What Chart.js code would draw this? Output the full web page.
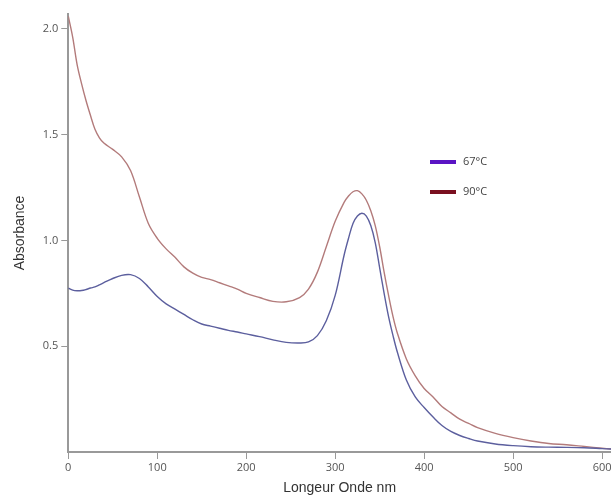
<!DOCTYPE html>
<html>
<head>
<meta charset="utf-8">
<script src="https://cdn.jsdelivr.net/npm/chart.js@4"></script>
<style>
  html, body { margin: 0; padding: 0; background: #fff; }
  #wrap { width: 611px; height: 498px; position: relative; }
</style>
</head>
<body>
<div id="wrap"><canvas id="chart"></canvas></div>
<script>
const wavelengths = [0, 5, 10, 15, 20, 25, 30, 35, 40, 50, 60, 70, 80, 90, 100, 110, 120, 130, 140, 150,
  160, 170, 180, 190, 200, 215, 230, 245, 260, 270, 280, 290, 300, 310, 315, 320, 325, 330, 335, 340,
  345, 350, 355, 360, 365, 370, 380, 390, 400, 410, 420, 430, 440, 450, 460, 480, 500, 520, 540, 560,
  580, 600, 610];

const abs67 = [0.775, 0.765, 0.762, 0.763, 0.768, 0.775, 0.78, 0.79, 0.80, 0.82, 0.835, 0.838, 0.82, 0.78, 0.735, 0.70, 0.675, 0.65, 0.625, 0.605,
  0.595, 0.585, 0.575, 0.567, 0.558, 0.545, 0.53, 0.518, 0.515, 0.52, 0.55, 0.62, 0.74, 0.93, 1.01, 1.08, 1.115, 1.128, 1.115, 1.07,
  0.99, 0.87, 0.75, 0.64, 0.55, 0.47, 0.34, 0.26, 0.21, 0.165, 0.125, 0.097, 0.078, 0.064, 0.052, 0.038, 0.03, 0.025, 0.023, 0.022,
  0.02, 0.016, 0.014];

const abs90 = [2.06, 1.96, 1.83, 1.74, 1.66, 1.59, 1.525, 1.485, 1.46, 1.43, 1.395, 1.33, 1.205, 1.08, 1.01, 0.96, 0.92, 0.875, 0.845, 0.825,
  0.815, 0.80, 0.785, 0.77, 0.75, 0.73, 0.712, 0.71, 0.73, 0.77, 0.85, 0.97, 1.09, 1.18, 1.21, 1.23, 1.235, 1.22, 1.19, 1.14,
  1.07, 0.97, 0.85, 0.74, 0.64, 0.56, 0.44, 0.36, 0.30, 0.26, 0.215, 0.185, 0.155, 0.135, 0.115, 0.088, 0.068, 0.052, 0.04, 0.034,
  0.026, 0.018, 0.014];

const seriesLabels = ['67°C', '90°C'];
const lineColors = ['#5c5f9e', '#b37b7b'];
const swatchColors = ['#5a14c4', '#7a0f20'];
const xTicks = [0, 100, 200, 300, 400, 500, 600];
const yTicks = [0.5, 1.0, 1.5, 2.0];

function toPoints(values) {
    return wavelengths.map((w, i) => ({ x: w, y: values[i] }));
}

// legend drawn inside the plot, to the right of the peak
const floatingLegend = {
    id: 'floatingLegend',
    afterDraw(chart) {
        const ctx = chart.ctx;
        ctx.save();
        ctx.font = '11px "Open Sans", sans-serif';
        ctx.textBaseline = 'middle';
        seriesLabels.forEach((label, i) => {
            const y = 162 + i * 30;
            ctx.fillStyle = swatchColors[i];
            ctx.fillRect(430, y - 2, 26, 4);
            ctx.fillStyle = '#444';
            ctx.fillText(label, 463, y);
        });
        ctx.restore();
    }
};

function makeDataset(i, values) {
    return {
        label: seriesLabels[i],
        data: toPoints(values),
        borderColor: lineColors[i],
        borderWidth: 1.4,
        pointRadius: 0,
        tension: 0.35,
        fill: false
    };
}

new Chart(document.getElementById('chart').getContext('2d'), {
    type: 'line',
    data: {
        datasets: [makeDataset(0, abs67), makeDataset(1, abs90)]
    },
    options: {
        responsive: true,
        maintainAspectRatio: false,
        animation: false,
        layout: { padding: { left: 12, right: 0, top: 14, bottom: 1 } },
        plugins: {
            legend: { display: false },
            tooltip: { enabled: false }
        },
        scales: {
            x: {
                type: 'linear',
                min: 0,
                max: 610,
                afterBuildTicks: scale => { scale.ticks = xTicks.map(v => ({ value: v })); },
                afterFit: scale => { scale.paddingRight = 0; },
                grid: { drawOnChartArea: false, drawTicks: true, tickLength: 7, color: '#999' },
                border: { display: true, color: '#999', width: 2 },
                ticks: { color: '#555', font: { family: 'Open Sans', size: 11 }, padding: 2, maxRotation: 0 },
                title: {
                    display: true,
                    text: 'Longeur Onde nm',
                    color: '#333',
                    font: { family: 'Liberation Sans', size: 14 },
                    padding: { top: 4, bottom: 0 }
                }
            },
            y: {
                min: 0,
                max: 2.07,
                afterBuildTicks: scale => { scale.ticks = yTicks.map(v => ({ value: v })); },
                grid: { drawOnChartArea: false, drawTicks: true, tickLength: 7, color: '#999' },
                border: { display: true, color: '#999', width: 2 },
                ticks: {
                    color: '#555',
                    font: { family: 'Open Sans', size: 11 },
                    padding: 3,
                    callback: v => v.toFixed(1)
                },
                title: {
                    display: true,
                    text: 'Absorbance',
                    color: '#333',
                    font: { family: 'Liberation Sans', size: 14 },
                    padding: { top: 0, bottom: 11 }
                }
            }
        }
    },
    plugins: [floatingLegend]
});
</script>
</body>
</html>
